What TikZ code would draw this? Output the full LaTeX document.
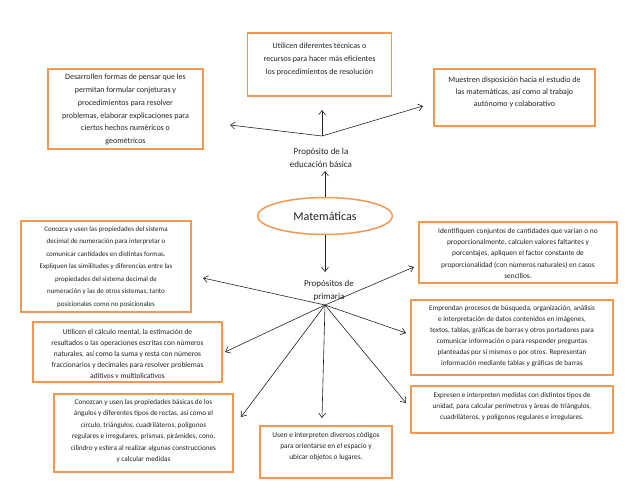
\documentclass[tikz,border=0pt]{standalone}
\usepackage{fontspec}
\setmainfont{Carlito}
\usetikzlibrary{arrows.meta,shapes.geometric}
\definecolor{orng}{RGB}{242,152,82}
\definecolor{ink}{RGB}{35,35,35}
\begin{document}
\begin{tikzpicture}[x=1pt,y=-1pt,
 box/.style={draw=orng, line width=1.3pt, fill=white, inner sep=0pt},
 txt/.style={align=center, inner sep=0pt, text=ink, anchor=north},
 fa/.style={font=\fontsize{8}{12.8}\selectfont},
 fb/.style={font=\fontsize{7.2}{11.3}\selectfont},
 lbl/.style={align=center, inner sep=0pt, text=ink, font=\fontsize{9}{13.5}\selectfont, anchor=north},
 arr/.style={draw=ink, line width=0.6pt, -{Straight Barb[length=4.5pt,width=7pt]}},
]
\useasboundingbox (0,0) rectangle (638,493);

% boxes
\node[box, minimum width=144pt, minimum height=63pt] (b1) at (319.5,64.5) {};
\node[txt, fa, font=\fontsize{8}{13}\selectfont] (t1) at (319.5,43) {Utilicen diferentes técnicas o\\recursos para hacer más eficientes\\los procedimientos de resolución};

\node[box, minimum width=155pt, minimum height=80pt] (b2) at (125.5,109) {};
\node[txt, fa] (t2) at (125.5,74) {Desarrollen formas de pensar que les\\permitan formular conjeturas y\\procedimientos para resolver\\problemas, elaborar explicaciones para\\ciertos hechos numéricos o\\geométricos};

\node[box, minimum width=161pt, minimum height=57pt] (b3) at (514.5,97.5) {};
\node[txt, fa, font=\fontsize{8}{12}\selectfont] (t3) at (514.5,77) {Muestren disposición hacia el estudio de\\las matemáticas, así como al trabajo\\autónomo y colaborativo};

\node[box, minimum width=170pt, minimum height=91pt] (b4) at (106,266.5) {};
\node[txt, font=\fontsize{7}{12.5}\selectfont] (t4) at (106,226) {Conozca y usen las propiedades del sistema\\decimal de numeración para interpretar o\\comunicar cantidades en distintas formas.\\Expliquen las similitudes y diferencias entre las\\propiedades del sistema decimal de\\numeración y las de otros sistemas, tanto\\posicionales como no posicionales};

\node[box, minimum width=198pt, minimum height=61pt] (b5) at (518,252.5) {};
\node[txt, font=\fontsize{7.4}{11.3}\selectfont] (t5) at (518,228) {Identifiquen conjuntos de cantidades que varían o no\\proporcionalmente, calculen valores faltantes y\\porcentajes, apliquen el factor constante de\\proporcionalidad (con números naturales) en casos\\sencillos.};

\node[box, minimum width=189pt, minimum height=60pt] (b6) at (127.5,352) {};
\begin{scope}
\clip ([yshift=-1pt]b6.north west) rectangle ([yshift=5pt]b6.south east);
\node[txt, font=\fontsize{7.5}{11}\selectfont] (t6) at (127.5,329) {Utilicen el cálculo mental, la estimación de\\resultados o las operaciones escritas con números\\naturales, así como la suma y resta con números\\fraccionarios y decimales para resolver problemas\\aditivos y multiplicativos};
\end{scope}
\node[box, fill=none, minimum width=189pt, minimum height=60pt] at (b6) {};

\node[box, minimum width=202pt, minimum height=75pt] (b7) at (512,337.5) {};
\node[txt, fb, font=\fontsize{7.2}{11}\selectfont] (t7) at (512,305) {Emprendan procesos de búsqueda, organización, análisis\\e interpretación de datos contenidos en imágenes,\\textos, tablas, gráficas de barras y otros portadores para\\comunicar información o para responder preguntas\\planteadas por sí mismos o por otros. Representan\\información mediante tablas y gráficas de barras};

\node[box, minimum width=179pt, minimum height=78pt] (b8) at (143.5,433) {};
\node[txt, fb, font=\fontsize{7.2}{11.5}\selectfont] (t8) at (143.5,399) {Conozcan y usen las propiedades básicas de los\\ángulos y diferentes tipos de rectas, así como el\\círculo, triángulos, cuadriláteros, polígonos\\regulares e irregulares, prismas, pirámides, cono,\\cilindro y esfera al realizar algunas construcciones\\y calcular medidas};

\node[box, minimum width=132pt, minimum height=52pt] (b9) at (326,452) {};
\node[txt, fb, font=\fontsize{7.4}{11.3}\selectfont] (t9) at (326,432) {Usen e interpreten diversos códigos\\para orientarse en el espacio y\\ubicar objetos o lugares.};

\node[box, minimum width=202pt, minimum height=47pt] (b10) at (512,409.5) {};
\node[txt, fb, font=\fontsize{7.2}{11}\selectfont] (t10) at (512,392) {Expresen e interpreten medidas con distintos tipos de\\unidad, para calcular perímetros y áreas de triángulos,\\cuadriláteros, y polígonos regulares e irregulares.};

% central
\node[ellipse, draw=orng, line width=1.5pt, fill=white, minimum width=135pt, minimum height=37pt, inner sep=0pt, text=ink, font=\fontsize{12}{14}\selectfont] (mat) at (325,216) {Matemáticas};
\node[lbl] (pe) at (321,148) {Propósito de la\\educación básica};
\node[lbl] (pp) at (329,280) {Propósitos de\\primaria};

% coordinates
\coordinate (hubA) at (322,136);
\coordinate (hubB) at (325,305);
\coordinate (peIn) at (325,171);
\coordinate (ppIn) at (325,272);
\coordinate (e1) at (322,110);
\coordinate (e2) at (230,125);
\coordinate (e3) at (423,106);
\coordinate (e4) at (203,278);
\coordinate (e5) at (414,267);
\coordinate (e6) at (225,352);
\coordinate (e7) at (241,417);
\coordinate (e8) at (322,418);
\coordinate (e9) at (406,333);
\coordinate (e10) at (406,403);

% connectors
\draw[arr] (mat.north) -- (peIn);
\draw[arr] (mat.south) -- (ppIn);
\draw[arr] (hubA) -- (e1);
\draw[arr] (hubA) -- (e2);
\draw[arr] (hubA) -- (e3);
\draw[arr] (hubB) -- (e4);
\draw[arr] (hubB) -- (e5);
\draw[arr] (hubB) -- (e6);
\draw[arr] (hubB) -- (e7);
\draw[arr] (hubB) -- (e8);
\draw[arr] (hubB) -- (e9);
\draw[arr] (hubB) -- (e10);
\end{tikzpicture}
\end{document}
